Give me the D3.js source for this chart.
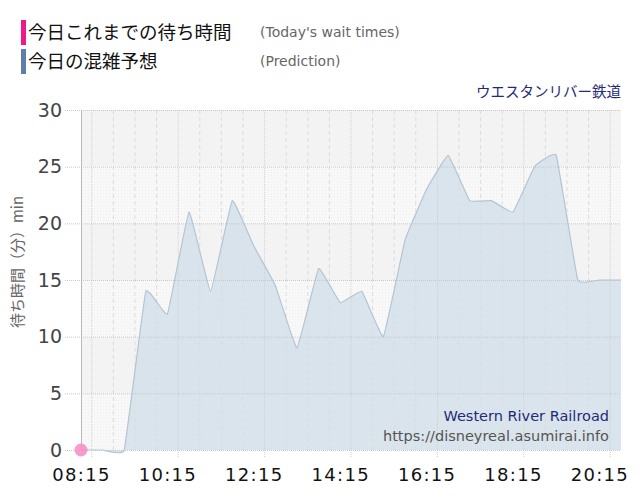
<!DOCTYPE html>
<html>
<head>
<meta charset="utf-8">
<script src="https://cdn.jsdelivr.net/npm/d3@7"></script>
<style>
  html, body { margin: 0; padding: 0; background: #fff; }
  svg { display: block; }
  .jp { font-family: "Noto Sans CJK JP", "Noto Sans", sans-serif; }
  .lat { font-family: "DejaVu Sans", Verdana, sans-serif; }
</style>
</head>
<body>
<div id="chart"></div>
<script>
(function () {
  "use strict";

  // prediction, every 30 minutes
  const predTimes = [
    "08:15", "08:45", "09:15", "09:45", "10:15", "10:45", "11:15", "11:45",
    "12:15", "12:45", "13:15", "13:45", "14:15", "14:45", "15:15", "15:45",
    "16:15", "16:45", "17:15", "17:45", "18:15", "18:45", "19:15", "19:45",
    "20:15", "20:45",
  ];
  const predValues = [
    0, 0, 0, 14, 12, 21, 14, 22,
    18, 14.5, 9, 16, 13, 14, 10, 18.5,
    23, 26, 22, 22, 21, 25, 26, 15,
    15, 15,
  ];

  // actual wait times so far
  const actualTimes = ["08:15"];
  const actualValues = [0];

  const xTickLabels = ["08:15", "10:15", "12:15", "14:15", "16:15", "18:15", "20:15"];
  const yTicks = [0, 5, 10, 15, 20, 25, 30];

  const width = 640;
  const height = 500;
  const plot = { left: 81, right: 621, top: 110, bottom: 450 };

  const parse = d3.timeParse("%H:%M");

  const x = d3
    .scaleTime()
    .domain([parse("08:15"), parse("20:45")])
    .range([plot.left, plot.right]);

  const y = d3.scaleLinear().domain([0, 30]).range([plot.bottom, plot.top]);

  const svg = d3
    .select("#chart")
    .append("svg")
    .attr("width", width)
    .attr("height", height)
    .attr("viewBox", `0 0 ${width} ${height}`);

  // stipple pattern for the lighter bands
  const defs = svg.append("defs");
  const pat = defs
    .append("pattern")
    .attr("id", "stipple")
    .attr("width", 3)
    .attr("height", 3)
    .attr("patternUnits", "userSpaceOnUse");
  pat.append("rect").attr("width", 3).attr("height", 3).attr("fill", "#f8f8f8");
  pat.append("rect").attr("x", 1).attr("y", 1).attr("width", 1).attr("height", 1).attr("fill", "#efefef");

  // background bands
  const bands = d3.range(0, 30, 5);
  svg
    .append("g")
    .selectAll("rect")
    .data(bands)
    .join("rect")
    .attr("x", plot.left)
    .attr("width", plot.right - plot.left)
    .attr("y", (d) => y(d + 5))
    .attr("height", (d) => y(d) - y(d + 5))
    .attr("fill", (d) => ((d / 5) % 2 === 0 ? "url(#stipple)" : "#f3f3f3"));

  // prediction area
  const predData = predTimes.map((t, i) => ({ t: parse(t), v: predValues[i] }));
  const curve = d3.curveCardinal.tension(0.75);

  const area = d3
    .area()
    .x((d) => x(d.t))
    .y0(y(0))
    .y1((d) => y(d.v))
    .curve(curve);

  const line = d3
    .line()
    .x((d) => x(d.t))
    .y((d) => y(d.v))
    .curve(curve);

  svg
    .append("path")
    .datum(predData)
    .attr("fill", "#d6e1ea")
    .attr("fill-opacity", 0.9)
    .attr("d", area);

  // vertical grid, every 30 minutes
  const halfHours = d3.timeMinute.every(30).range(parse("08:15"), parse("20:46"));
  const grid = svg.append("g");
  grid
    .selectAll("line.v")
    .data(halfHours)
    .join("line")
    .attr("class", "v")
    .attr("x1", (d) => x(d))
    .attr("x2", (d) => x(d))
    .attr("y1", plot.top)
    .attr("y2", (d, i) => (i % 4 === 0 ? plot.bottom + 8 : plot.bottom))
    .attr("stroke", (d, i) => (i % 4 === 0 ? "#cfcfcf" : "#dcdcdc"))
    .attr("stroke-width", 1)
    .attr("stroke-dasharray", (d, i) => (i % 4 === 0 ? "1,1" : "4,3"));

  // horizontal grid
  grid
    .selectAll("line.h")
    .data(yTicks)
    .join("line")
    .attr("class", "h")
    .attr("x1", plot.left - 16)
    .attr("x2", plot.right)
    .attr("y1", (d) => y(d) + 0.5)
    .attr("y2", (d) => y(d) + 0.5)
    .attr("stroke", "#c8c8c8")
    .attr("stroke-dasharray", "1,1");

  // prediction outline on top of grid
  svg
    .append("path")
    .datum(predData)
    .attr("fill", "none")
    .attr("stroke", "#b4c4d4")
    .attr("stroke-width", 1.2)
    .attr("d", line);

  // left axis line
  svg
    .append("line")
    .attr("x1", plot.left + 0.5)
    .attr("x2", plot.left + 0.5)
    .attr("y1", plot.top)
    .attr("y2", plot.bottom)
    .attr("stroke", "#b8b8c0");

  // y axis labels
  const yAxis = d3
    .axisLeft(y)
    .tickValues(yTicks)
    .tickSize(0)
    .tickPadding(19);
  const gy = svg.append("g").attr("transform", `translate(${plot.left},0)`).call(yAxis);
  gy.select(".domain").remove();
  gy.selectAll("text")
    .attr("class", "lat")
    .attr("font-size", 19)
    .attr("fill", "#444");

  // x axis labels
  const xAxis = d3
    .axisBottom(x)
    .tickValues(xTickLabels.map(parse))
    .tickFormat(d3.timeFormat("%H:%M"))
    .tickSize(0)
    .tickPadding(18);
  const gx = svg.append("g").attr("transform", `translate(0,${plot.bottom})`).call(xAxis);
  gx.select(".domain").remove();
  gx.selectAll("text")
    .attr("class", "lat")
    .attr("font-size", 18)
    .attr("letter-spacing", 1.3)
    .attr("fill", "#111");

  // actual wait times
  const actualData = actualTimes.map((t, i) => ({ t: parse(t), v: actualValues[i] }));
  svg
    .append("g")
    .selectAll("circle")
    .data(actualData)
    .join("circle")
    .attr("cx", (d) => x(d.t))
    .attr("cy", (d) => y(d.v))
    .attr("r", 6.5)
    .attr("fill", "#f58cc4")
    .attr("fill-opacity", 0.85);

  // y axis title
  svg
    .append("text")
    .attr("class", "jp")
    .attr("transform", "translate(23,262) rotate(-90)")
    .attr("text-anchor", "middle")
    .attr("font-size", 15)
    .attr("fill", "#666")
    .text("待ち時間（分）min");

  // legend
  const legend = [
    { color: "#ee1a8c", jp: "今日これまでの待ち時間", en: "(Today's wait times)", y: 20 },
    { color: "#5f7fab", jp: "今日の混雑予想", en: "(Prediction)", y: 49 },
  ];
  const lg = svg.append("g").selectAll("g").data(legend).join("g");
  lg.append("rect")
    .attr("x", 21)
    .attr("y", (d) => d.y)
    .attr("width", 5)
    .attr("height", 25)
    .attr("fill", (d) => d.color);
  lg.append("text")
    .attr("class", "jp")
    .attr("x", 28)
    .attr("y", (d) => d.y + 19)
    .attr("font-size", 18.5)
    .attr("fill", "#111")
    .text((d) => d.jp);
  lg.append("text")
    .attr("class", "lat")
    .attr("x", 260)
    .attr("y", (d) => d.y + 17)
    .attr("font-size", 14)
    .attr("fill", "#666")
    .text((d) => d.en);

  // attraction name, top right
  svg
    .append("text")
    .attr("class", "jp")
    .attr("x", 621)
    .attr("y", 97)
    .attr("text-anchor", "end")
    .attr("font-size", 14.5)
    .attr("fill", "#1f2a78")
    .text("ウエスタンリバー鉄道");

  // credits, bottom right of plot
  svg
    .append("text")
    .attr("class", "lat")
    .attr("x", 609)
    .attr("y", 421)
    .attr("text-anchor", "end")
    .attr("font-size", 14.5)
    .attr("fill", "#1f2a78")
    .text("Western River Railroad");
  svg
    .append("text")
    .attr("class", "lat")
    .attr("x", 609)
    .attr("y", 441)
    .attr("text-anchor", "end")
    .attr("font-size", 14.5)
    .attr("fill", "#555")
    .text("https://disneyreal.asumirai.info");
})();
</script>
</body>
</html>
